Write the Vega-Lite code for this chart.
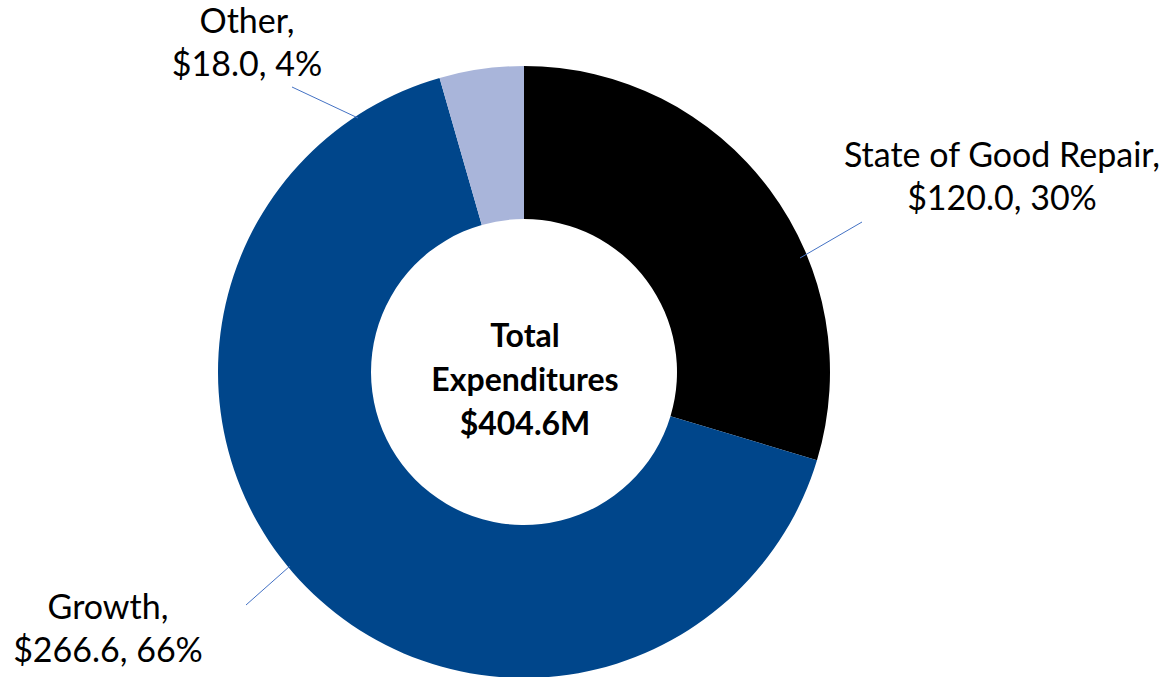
{
  "$schema": "https://vega.github.io/schema/vega-lite/v6.json",
  "width": 1048,
  "height": 744,
  "autosize": {"type": "none"},
  "padding": {"left": 0, "top": 0, "right": 120, "bottom": -67},
  "background": "white",
  "config": {"view": {"stroke": null}, "font": "Lato"},
  "datasets": {
    "slices": [
      {"category": "State of Good Repair", "value": 120.0, "pct": 30, "idx": 1, "label": "State of Good Repair,\n$120.0, 30%"},
      {"category": "Growth", "value": 266.6, "pct": 66, "idx": 2, "label": "Growth,\n$266.6, 66%"},
      {"category": "Other", "value": 18.0, "pct": 4, "idx": 3, "label": "Other,\n$18.0, 4%"}
    ],
    "total": [{"text": "Total\nExpenditures\n$404.6M"}]
  },
  "layer": [
    {
      "data": {"name": "slices"},
      "mark": {"type": "arc", "innerRadius": 153, "outerRadius": 306},
      "encoding": {
        "theta": {"field": "value", "type": "quantitative", "stack": true},
        "order": {"field": "idx", "type": "quantitative"},
        "color": {
          "field": "category",
          "type": "nominal",
          "scale": {"domain": ["State of Good Repair", "Growth", "Other"], "range": ["#000000", "#00468B", "#A9B5DA"]},
          "legend": null
        }
      }
    },
    {
      "data": {"values": [{}]},
      "mark": {"type": "rule", "color": "#4472C4", "strokeWidth": 1},
      "encoding": {"x": {"value": 800}, "y": {"value": 258}, "x2": {"value": 862}, "y2": {"value": 222}}
    },
    {
      "data": {"values": [{}]},
      "mark": {"type": "rule", "color": "#4472C4", "strokeWidth": 1},
      "encoding": {"x": {"value": 246}, "y": {"value": 605}, "x2": {"value": 290}, "y2": {"value": 566}}
    },
    {
      "data": {"values": [{}]},
      "mark": {"type": "rule", "color": "#4472C4", "strokeWidth": 1},
      "encoding": {"x": {"value": 292}, "y": {"value": 87}, "x2": {"value": 358}, "y2": {"value": 118}}
    },
    {
      "data": {"name": "slices"},
      "transform": [{"filter": "datum.category === 'State of Good Repair'"}],
      "mark": {"type": "text", "dx": 478, "dy": -205, "align": "center", "baseline": "alphabetic", "lineBreak": "\n", "lineHeight": 43, "fontSize": 34, "color": "#000000"},
      "encoding": {"text": {"field": "label", "type": "nominal"}}
    },
    {
      "data": {"name": "slices"},
      "transform": [{"filter": "datum.category === 'Growth'"}],
      "mark": {"type": "text", "dx": -416, "dy": 247, "align": "center", "baseline": "alphabetic", "lineBreak": "\n", "lineHeight": 43, "fontSize": 34, "color": "#000000"},
      "encoding": {"text": {"field": "label", "type": "nominal"}}
    },
    {
      "data": {"name": "slices"},
      "transform": [{"filter": "datum.category === 'Other'"}],
      "mark": {"type": "text", "dx": -277, "dy": -339, "align": "center", "baseline": "alphabetic", "lineBreak": "\n", "lineHeight": 43, "fontSize": 34, "color": "#000000"},
      "encoding": {"text": {"field": "label", "type": "nominal"}}
    },
    {
      "data": {"name": "total"},
      "mark": {"type": "text", "dx": 1, "dy": -25, "align": "center", "baseline": "alphabetic", "lineBreak": "\n", "lineHeight": 44, "fontSize": 32, "fontWeight": "bold", "color": "#000000"},
      "encoding": {"text": {"field": "text", "type": "nominal"}}
    }
  ]
}
